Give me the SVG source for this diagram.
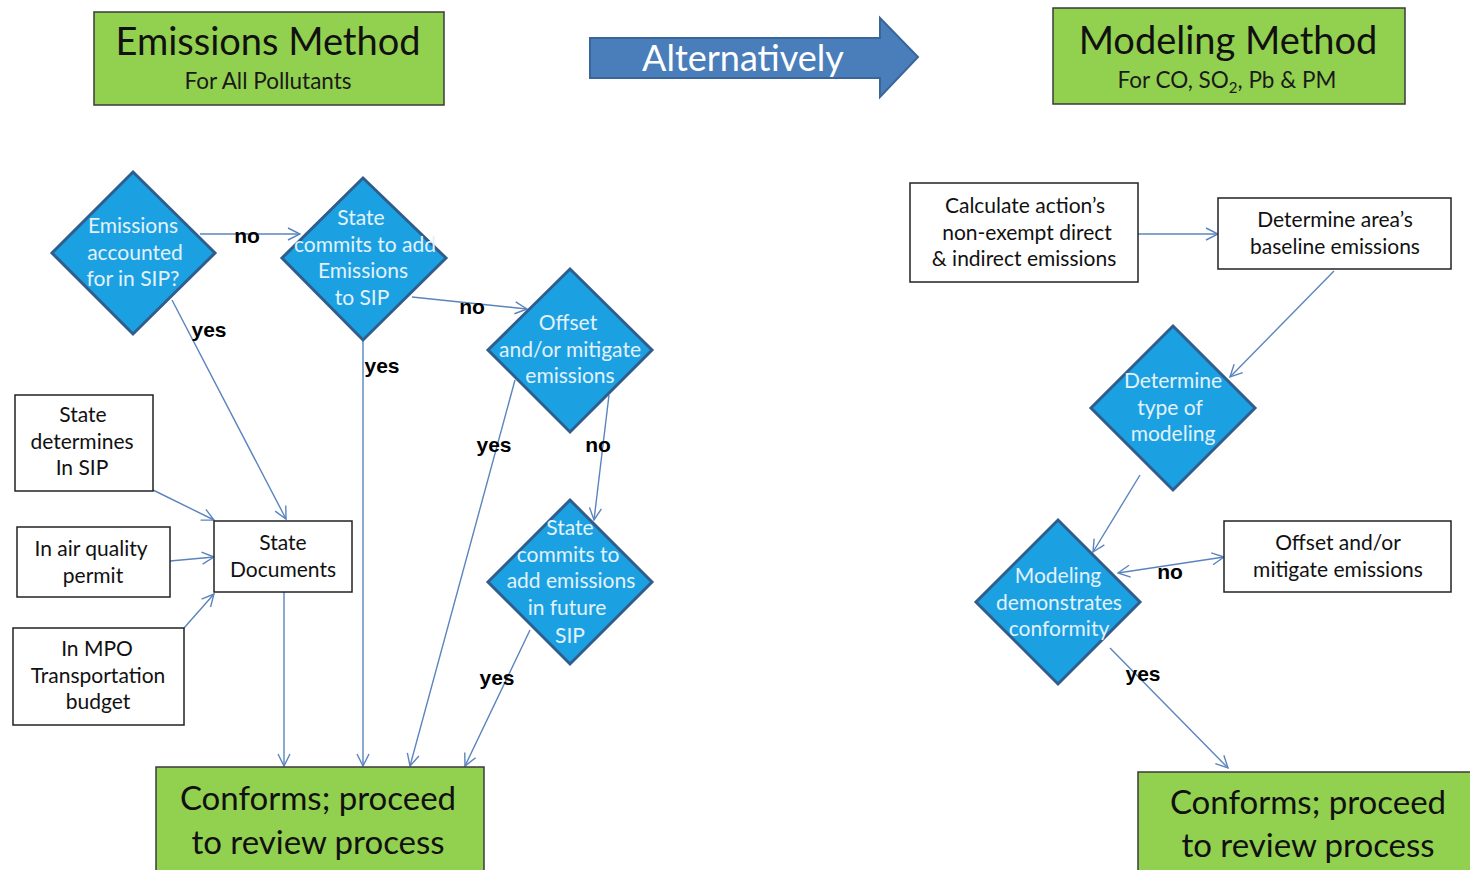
<svg xmlns="http://www.w3.org/2000/svg" width="1470" height="870" viewBox="0 0 1470 870">
<defs>
<style>
.title{fill:#92D050;stroke:#3a3a3a;stroke-width:1.5}
.box{fill:#fff;stroke:#222;stroke-width:1.5}
.dia{fill:#1BA1E2;stroke:#2F5E8E;stroke-width:3}
.t{font-family:Lato,"Liberation Sans",sans-serif;text-anchor:middle}
.bt{font-size:21px;fill:#111}
.dt{font-size:21px;fill:#E3F1FB}
.big{font-size:38px;fill:#111}
.sub{font-size:22.5px;fill:#1a1a1a}
.lab{font-family:"Liberation Sans",Arial,sans-serif;font-weight:bold;font-size:21px;fill:#000;text-anchor:middle}
.c{fill:none;stroke:#5B84BD;stroke-width:1.4;marker-end:url(#ah)}
</style>
<marker id="ah" markerUnits="userSpaceOnUse" markerWidth="14" markerHeight="14" refX="13" refY="7" orient="auto-start-reverse" viewBox="0 0 14 14">
<path d="M1,1 L13,7 L1,13" fill="none" stroke="#5B84BD" stroke-width="1.4"/>
</marker>
</defs>

<g id="emissions-method">
<rect class="title" x="94" y="12" width="350" height="93"/>
<text class="t big" x="268" y="55">Emissions Method</text>
<text class="t sub" x="268" y="89">For All Pollutants</text>
</g>

<g id="alternatively">
<polygon points="590,38 880,38 880,18 918,57 880,97 880,78 590,78" fill="#4A7EBB" stroke="#3A659A" stroke-width="2"/>
<text class="t" x="743" y="71" font-size="36" fill="#fff">Alternatively</text>
</g>

<g id="modeling-method">
<rect class="title" x="1053" y="8" width="352" height="96"/>
<text class="t big" x="1228" y="54">Modeling Method</text>
<text class="t sub" x="1227" y="88">For CO, SO<tspan dy="5" font-size="15">2</tspan><tspan dy="-5">, Pb &amp; PM</tspan></text>
</g>

<g id="connectors">
<line class="c" x1="200" y1="234" x2="300" y2="234"/>
<line class="c" x1="172" y1="300" x2="286" y2="519"/>
<line class="c" x1="412" y1="297" x2="527" y2="309"/>
<line class="c" x1="363" y1="340" x2="363" y2="766"/>
<line class="c" x1="515" y1="380" x2="410" y2="766"/>
<line class="c" x1="609" y1="395" x2="594" y2="520"/>
<line class="c" x1="530" y1="630" x2="465" y2="766"/>
<line class="c" x1="153" y1="490" x2="214" y2="520"/>
<line class="c" x1="170" y1="561" x2="214" y2="557"/>
<line class="c" x1="184" y1="628" x2="214" y2="594"/>
<line class="c" x1="284" y1="592" x2="284" y2="766"/>
<line class="c" x1="1138" y1="234" x2="1218" y2="234"/>
<line class="c" x1="1334" y1="271" x2="1230" y2="377"/>
<line class="c" x1="1140" y1="475" x2="1093" y2="552"/>
<line class="c" x1="1118" y1="573" x2="1224" y2="557" marker-start="url(#ah)"/>
<line class="c" x1="1110" y1="648" x2="1228" y2="768"/>
<text class="lab" x="247" y="243">no</text>
<text class="lab" x="209" y="337">yes</text>
<text class="lab" x="472" y="314">no</text>
<text class="lab" x="382" y="373">yes</text>
<text class="lab" x="494" y="452">yes</text>
<text class="lab" x="598" y="452">no</text>
<text class="lab" x="497" y="685">yes</text>
<text class="lab" x="1170" y="579">no</text>
<text class="lab" x="1143" y="681">yes</text>
</g>

<g id="d-accounted">
<polygon class="dia" points="133,172 215,253 133,334 52,253"/>
<text class="t dt" x="133" y="233">Emissions</text>
<text class="t dt" x="135" y="260">accounted</text>
<text class="t dt" x="133" y="286">for in SIP?</text>
</g>

<g id="d-commits-add">
<polygon class="dia" points="363,178 446,258 363,340 282,258"/>
<text class="t dt" x="361" y="225">State</text>
<text class="t dt" x="365" y="252">commits to add</text>
<text class="t dt" x="363" y="278">Emissions</text>
<text class="t dt" x="362" y="305">to SIP</text>
</g>

<g id="d-offset">
<polygon class="dia" points="570,269 652,350 570,432 488,350"/>
<text class="t dt" x="568" y="330">Offset</text>
<text class="t dt" x="570" y="357">and/or mitigate</text>
<text class="t dt" x="570" y="383">emissions</text>
</g>

<g id="d-future">
<polygon class="dia" points="570,500 652,582 570,664 488,582"/>
<text class="t dt" x="570" y="535">State</text>
<text class="t dt" x="568" y="562">commits to</text>
<text class="t dt" x="571" y="588">add emissions</text>
<text class="t dt" x="567" y="615">in future</text>
<text class="t dt" x="570" y="643">SIP</text>
</g>

<g id="state-determines">
<rect class="box" x="15" y="395" width="138" height="96"/>
<text class="t bt" x="83" y="422">State</text>
<text class="t bt" x="82" y="449">determines</text>
<text class="t bt" x="82" y="475">In SIP</text>
</g>

<g id="air-quality-permit">
<rect class="box" x="17" y="527" width="153" height="70"/>
<text class="t bt" x="91" y="556">In air quality</text>
<text class="t bt" x="93" y="583">permit</text>
</g>

<g id="mpo-budget">
<rect class="box" x="13" y="628" width="171" height="97"/>
<text class="t bt" x="97" y="656">In MPO</text>
<text class="t bt" x="98" y="683">Transportation</text>
<text class="t bt" x="98" y="709">budget</text>
</g>

<g id="state-documents">
<rect class="box" x="214" y="521" width="138" height="71"/>
<text class="t bt" x="283" y="550">State</text>
<text class="t bt" x="283" y="577">Documents</text>
</g>

<g id="conforms-left">
<rect class="title" x="156" y="767" width="328" height="110"/>
<text class="t" x="318" y="810" font-size="33" fill="#111">Conforms; proceed</text>
<text class="t" x="318" y="854" font-size="33" fill="#111">to review process</text>
</g>

<g id="calculate">
<rect class="box" x="910" y="183" width="228" height="99"/>
<text class="t bt" x="1025" y="213">Calculate action’s</text>
<text class="t bt" x="1027" y="240">non-exempt direct</text>
<text class="t bt" x="1024" y="266">&amp; indirect emissions</text>
</g>

<g id="baseline">
<rect class="box" x="1218" y="198" width="233" height="71"/>
<text class="t bt" x="1335" y="227">Determine area’s</text>
<text class="t bt" x="1335" y="254">baseline emissions</text>
</g>

<g id="d-type">
<polygon class="dia" points="1173,326 1255,408 1173,490 1091,408"/>
<text class="t dt" x="1173" y="388">Determine</text>
<text class="t dt" x="1170" y="415">type of</text>
<text class="t dt" x="1173" y="441">modeling</text>
</g>

<g id="d-conformity">
<polygon class="dia" points="1058,520 1140,602 1058,684 976,602"/>
<text class="t dt" x="1058" y="583">Modeling</text>
<text class="t dt" x="1059" y="610">demonstrates</text>
<text class="t dt" x="1059" y="636">conformity</text>
</g>

<g id="offset-box">
<rect class="box" x="1224" y="521" width="227" height="71"/>
<text class="t bt" x="1338" y="550">Offset and/or</text>
<text class="t bt" x="1338" y="577">mitigate emissions</text>
</g>

<g id="conforms-right">
<rect class="title" x="1138" y="772" width="340" height="110"/>
<text class="t" x="1308" y="814" font-size="33" fill="#111">Conforms; proceed</text>
<text class="t" x="1308" y="857" font-size="33" fill="#111">to review process</text>
</g>
</svg>
